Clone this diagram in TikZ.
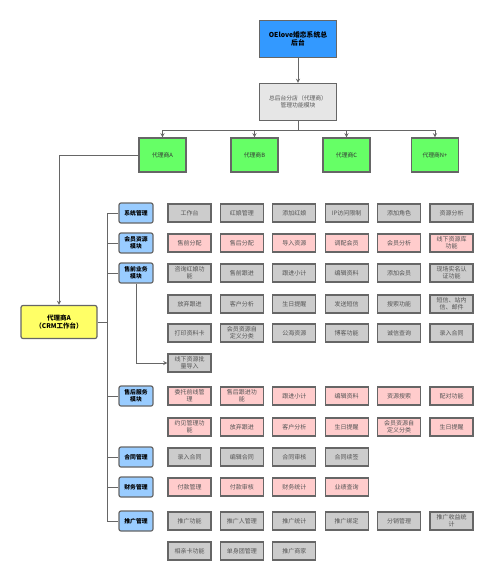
\documentclass[tikz,border=0pt]{standalone}
\usepackage{fontspec}
\newfontfamily\cjk{Noto Sans CJK SC}
\usepackage{xcolor}
\usetikzlibrary{arrows, arrows.meta, positioning}

\definecolor{edgegray}{HTML}{666666}
\definecolor{topblue}{HTML}{3399FF}
\definecolor{mgmtgray}{HTML}{E6E6E6}
\definecolor{agentgreen}{HTML}{66FF66}
\definecolor{crmyellow}{HTML}{FFFF66}
\definecolor{modblue}{HTML}{99CCFF}
\definecolor{featgray}{HTML}{CCCCCC}
\definecolor{pinkfill}{HTML}{FFCCCC}
\definecolor{txtgray}{HTML}{555555}

\begin{document}
\begin{tikzpicture}[x=1pt, y=-1pt,
        base/.style={rectangle, draw=edgegray, line width=1.2pt, align=center, inner sep=1pt},
        topbox/.style={base, fill=topblue, minimum width=77pt, minimum height=37pt, font=\cjk\bfseries\fontsize{6.8}{8.5}\selectfont},
        mgmt/.style={base, fill=mgmtgray, minimum width=77pt, minimum height=37pt, text=txtgray, font=\cjk\fontsize{5.8}{7.2}\selectfont},
        agent/.style={base, fill=agentgreen, minimum width=47pt, minimum height=34pt, text=black!80, font=\cjk\fontsize{5.8}{7}\selectfont},
        crm/.style={base, fill=crmyellow, rounded corners=2pt, minimum width=76pt, minimum height=33pt, font=\cjk\bfseries\fontsize{6.5}{8.2}\selectfont},
        module/.style={base, fill=modblue, rounded corners=2pt, minimum width=34pt, minimum height=20pt, font=\cjk\bfseries\fontsize{5.8}{6.8}\selectfont},
        feat/.style={base, fill=featgray, minimum width=43pt, minimum height=18pt, text=txtgray, font=\cjk\fontsize{6}{6.8}\selectfont},
        featpink/.style={feat, fill=pinkfill},
        line/.style={draw=edgegray, line width=0.9pt},
        arrow/.style={->, >=stealth, line width=0.9pt, color=edgegray}
    ]
    \useasboundingbox (0,0) rectangle (500,586);

    % top of the tree
    \node (top)  [topbox] at (298,39)  {OElove婚恋系统总\\后台};
    \node (mgmt) [mgmt]   at (298,102) {总后台分店（代理商）\\管理功能模块};

    % agents
    \node (agA) [agent] at (162.5,155) {代理商A};
    \node (agB) [agent] at (254.5,155) {代理商B};
    \node (agC) [agent] at (346.5,155) {代理商C};
    \node (agN) [agent] at (435,155)   {代理商N+};

    \node (crm) [crm] at (59,322) {代理商A\\（CRM工作台）};

    \draw [arrow] (top) -- (mgmt);
    \draw [line] (mgmt.south) -- ++(0,9) coordinate (bus);
    \foreach \a in {agA, agB, agC, agN}
        \draw [arrow] (bus) -| (\a.north);
    \draw [arrow] (agA.west) -| (crm.north);

    % modules on the trunk
    \node (m1) [module] at (136,213) {系统管理};
    \node (m2) [module] at (136,243) {会员资源\\模块};
    \node (m3) [module] at (136,273) {售前业务\\模块};
    \node (m4) [module] at (136,396) {售后服务\\模块};
    \node (m5) [module] at (136,457) {合同管理};
    \node (m6) [module] at (136,487) {财务管理};
    \node (m7) [module] at (136,521) {推广管理};

    \coordinate (trunk) at (107,322);
    \draw [line] (crm.east) -- (trunk);
    \foreach \m in {m1, m2, m3, m4, m5, m6, m7}
        \draw [line] (\m.west) -| (trunk);

    % feature rows
    \foreach \t [count=\i] in {工作台, 红娘管理, 添加红娘, IP访问限制, 添加角色, 资源分析}
        \node (sys\i) [feat] at (189.5+52.4*\i-52.4,213) {\t};
    \foreach \t [count=\i] in {售前分配, 售后分配, 导入资源, 调配会员, 会员分析, {线下资源库\\功能}}
        \node (mem\i) [featpink] at (189.5+52.4*\i-52.4,243) {\t};
    \foreach \t [count=\i] in {{咨询红娘功\\能}, 售前跟进, 跟进小计, 编辑资料, 添加会员, {现场实名认\\证功能}}
        \node (preA\i) [feat] at (189.5+52.4*\i-52.4,273) {\t};
    \foreach \t [count=\i] in {放弃跟进, 客户分析, 生日提醒, 发送短信, 搜索功能, {短信、站内\\信、邮件}}
        \node (preB\i) [feat] at (189.5+52.4*\i-52.4,304) {\t};
    \foreach \t [count=\i] in {打印资料卡, {会员资源自\\定义分类}, 公海资源, 博客功能, 诚信查询, 录入合同}
        \node (preC\i) [feat] at (189.5+52.4*\i-52.4,333) {\t};
    \node (offline) [feat] at (189.5,363) {线下资源批\\量导入};
    \draw [arrow] (m3.south) |- (offline.west);

    \foreach \t [count=\i] in {{委托前线管\\理}, {售后跟进功\\能}, 跟进小计, 编辑资料, 资源搜索, 配对功能}
        \node (aftA\i) [featpink] at (189.5+52.4*\i-52.4,396) {\t};
    \foreach \t [count=\i] in {{约见管理功\\能}, 放弃跟进, 客户分析, 生日提醒, {会员资源自\\定义分类}, 生日提醒}
        \node (aftB\i) [featpink] at (189.5+52.4*\i-52.4,427) {\t};
    \foreach \t [count=\i] in {录入合同, 编辑合同, 合同审核, 合同续签}
        \node (con\i) [feat] at (189.5+52.4*\i-52.4,457) {\t};
    \foreach \t [count=\i] in {付款管理, 付款审核, 财务统计, 业绩查询}
        \node (fin\i) [featpink] at (189.5+52.4*\i-52.4,487) {\t};
    \foreach \t [count=\i] in {推广功能, 推广人管理, 推广统计, 推广绑定, 分销管理, {推广收益统\\计}}
        \node (proA\i) [feat] at (189.5+52.4*\i-52.4,521) {\t};
    \foreach \t [count=\i] in {相亲卡功能, 单身团管理, 推广商家}
        \node (proB\i) [feat] at (189.5+52.4*\i-52.4,551) {\t};

\end{tikzpicture}
\end{document}
